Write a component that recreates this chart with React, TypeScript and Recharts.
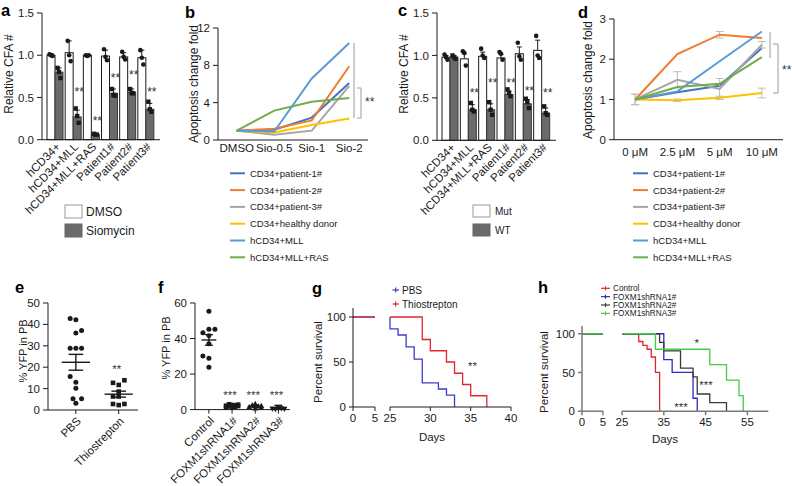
import React from 'react'
import {
  BarChart, Bar, LineChart, Line, ScatterChart, Scatter, XAxis, YAxis,
  ReferenceLine, ErrorBar,
} from 'recharts'

const FONT = '"Liberation Sans", Arial, Helvetica, sans-serif'
const INK = '#1a1a1a'

// a + c: relative colony counts
const cfaGroups = ['hCD34+', 'hCD34+MLL', 'hCD34+MLL+RAS', 'Patient1#', 'Patient2#', 'Patient3#']
const dmsoMean = [1.0, 1.03, 1.0, 0.99, 0.98, 0.97]
const dmsoErr = [0.02, 0.14, 0.01, 0.07, 0.05, 0.09]
const dmsoDots = [[1.01, 1.0, 0.99], [1.17, 1.0, 0.93], [1.0, 0.99, 1.0], [1.07, 0.98, 0.94], [1.04, 0.98, 0.95], [1.06, 0.97, 0.89]]
const sioMean = [0.8, 0.27, 0.06, 0.55, 0.56, 0.36]
const sioErr = [0.05, 0.08, 0.01, 0.05, 0.04, 0.07]
const sioDots = [[0.85, 0.8, 0.73], [0.37, 0.28, 0.2], [0.07, 0.06, 0.06], [0.6, 0.53, 0.52], [0.6, 0.55, 0.55], [0.45, 0.36, 0.33]]
const sioSig = ['', '**', '**', '**', '**', '**']
const sioSigAt = [0, 0.6, 0.26, 0.77, 0.8, 0.6]

const mutMean = [0.98, 0.96, 0.99, 0.97, 1.02, 1.06]
const mutErr = [0.02, 0.06, 0.05, 0.04, 0.08, 0.12]
const mutDots = [[1.01, 0.98, 0.95], [1.05, 1.03, 0.88], [1.08, 1.0, 0.97], [1.04, 1.02, 0.95], [1.15, 0.99, 0.95], [1.23, 1.0, 0.97]]
const wtMean = [0.98, 0.36, 0.36, 0.54, 0.43, 0.32]
const wtErr = [0.02, 0.06, 0.07, 0.04, 0.05, 0.06]
const wtDots = [[1.0, 0.98, 0.96], [0.44, 0.36, 0.34], [0.45, 0.36, 0.3], [0.6, 0.56, 0.52], [0.49, 0.45, 0.38], [0.4, 0.32, 0.3]]
const wtSig = ['', '**', '**', '**', '**', '**']
const wtSigAt = [0, 0.59, 0.71, 0.71, 0.62, 0.59]

// b + d: apoptosis fold change
const lineNames = ['CD34+patient-1#', 'CD34+patient-2#', 'CD34+patient-3#', 'CD34+healthy donor', 'hCD34+MLL', 'hCD34+MLL+RAS']
const lineColors = ['#4472c4', '#ed7d31', '#a5a5a5', '#ffc000', '#5b9bd5', '#70ad47']

const sioDoses = ['DMSO', 'Sio-0.5', 'Sio-1', 'Sio-2']
const bPatient1 = [1, 1.1, 2.4, 6.1]
const bPatient2 = [1, 1.2, 2.1, 7.9]
const bPatient3 = [1, 0.55, 1.0, 5.8]
const bHealthy = [1, 0.8, 1.6, 2.3]
const bMll = [1, 0.9, 6.6, 10.4]
const bMllRas = [1, 3.15, 4.1, 4.5]

const doses = ['0 μM', '2.5 μM', '5 μM', '10 μM']
const dPatient1 = [1, 1.18, 1.34, 2.28]
const dPatient2 = [1, 2.13, 2.61, 2.53]
const dPatient2Err = [0, 0, 0.08, 0]
const dPatient3 = [1, 1.49, 1.26, 2.36]
const dPatient3Err = [0.13, 0.2, 0.26, 0.08]
const dHealthy = [1, 0.98, 1.04, 1.16]
const dHealthyErr = [0.13, 0.03, 0.04, 0.12]
const dMll = [1, 1.2, 1.95, 2.69]
const dMllRas = [1, 1.31, 1.39, 2.05]

// e: % YFP, PBS vs thiostrepton
const yfpGroups = ['PBS', 'Thiostrepton']
const pbsYfp = [42.7, 42.2, 37.2, 36.0, 28.8, 28.8, 28.9, 15.6, 13.0, 10.2, 5.3, 5.2, 3.1]
const pbsCol = [-1, 0, 1, 0, -1, 0, 1, -1, 0, 0, -0.5, 1, 0]
const thioYfp = [13.9, 12.7, 11.7, 8.6, 6.3, 6.3, 2.8, 2.3, 2.8]
const thioCol = [1, -1, 0, 0, -1, 0, -1, 0, 1]
const yfpMean = [22.3, 7.4]
const yfpSemLow = [18.6, 6.0]
const yfpSemHigh = [26.0, 8.8]
const yfpSig = ['', '**']
const yfpSigAt = [0, 20.7]

// f: % YFP, shRNA knockdowns
const shGroups = ['Control', 'FOXM1shRNA1#', 'FOXM1shRNA2#', 'FOXM1shRNA3#']
const ctrlYfp = [55.3, 43.3, 45.2, 45.2, 41.5, 37.0, 30.1, 28.9, 23.8]
const ctrlCol = [0, -1, 0, 1, 0, 0, -1, 0, 0]
const sh1Yfp = [3.0, 2.6, 2.4, 2.2, 2.0, 1.8, 1.6, 1.3, 1.1, 2.8]
const sh1Col = [-0.5, 0, 0.5, -1, 1, -0.5, 0.5, 0, -1, 1]
const sh2Yfp = [3.3, 2.5, 1.9, 1.4, 1.0, 0.7, 2.1]
const sh2Col = [0, -0.5, 0.5, -1, 1, 0, 1]
const sh3Yfp = [0.8, 0.5, 0.3, 0.2, 0.6]
const sh3Col = [0, -1, 1, -0.5, 0.5]
const shMean = [39.2, 2.0, 1.8, 0.5]
const shSemLow = [36.2, 1.6, 1.2, 0.2]
const shSemHigh = [42.2, 2.4, 2.6, 2.4]
const shSig = ['', '***', '***', '***']
const shSigAt = [0, 9.9, 9.9, 9.9]

// g: survival, PBS vs thiostrepton
const gEarlyDays = [0, 5]
const pbsEarly = [100, 100]
const thioEarly = [100, 100]
const pbsDays = [25, 25, 26, 27, 28, 29, 31, 32, 33]
const pbsSurv = [100, 86.7, 80, 66.7, 53.3, 26.7, 20, 13.3, 0]
const thioDays = [25, 29, 30, 32, 33, 34, 35, 37]
const thioSurv = [100, 75, 62.5, 50, 37.5, 25, 12.5, 0]

// h: survival, shRNAs
const hEarlyDays = [0, 5]
const ctrlEarly = [100, 100]
const sh1Early = [100, 100]
const sh2Early = [100, 100]
const sh3Early = [100, 100]
const ctrlDays = [25, 29, 30, 31, 32, 33, 34]
const ctrlSurv = [100, 90, 85, 80, 70, 50, 0]
const sh1Days = [25, 35, 37, 42, 43]
const sh1Surv = [100, 66.7, 50, 16.7, 0]
const sh2Days = [25, 34, 35, 39, 42, 43, 46, 50]
const sh2Surv = [100, 88.9, 77.8, 55.6, 44.4, 22.2, 11.1, 0]
const sh3Days = [25, 33, 46, 50, 53, 54]
const sh3Surv = [100, 80, 60, 40, 20, 0]

const gSeries = [
  { name: 'PBS', color: '#3b3bd0', early: pbsEarly, days: pbsDays, surv: pbsSurv },
  { name: 'Thiostrepton', color: '#e0262c', early: thioEarly, days: thioDays, surv: thioSurv },
]
const hSeries = [
  { name: 'Control', color: '#e0262c', early: ctrlEarly, days: ctrlDays, surv: ctrlSurv },
  { name: 'FOXM1shRNA1#', color: '#2b2bc6', early: sh1Early, days: sh1Days, surv: sh1Surv },
  { name: 'FOXM1shRNA2#', color: '#3a3a3a', early: sh2Early, days: sh2Days, surv: sh2Surv },
  { name: 'FOXM1shRNA3#', color: '#3fcf3f', early: sh3Early, days: sh3Days, surv: sh3Surv },
]

const tickFont = { fontSize: 11.5, fill: INK }
const axisInk = { stroke: INK }

type Rect = { x0: number; y0: number; x1: number; y1: number }
const PAD = 10
function place(r: Rect, yw: number, xh: number) {
  return {
    box: { position: 'absolute' as const, left: r.x0 - yw - PAD, top: r.y0 - PAD },
    size: {
      width: r.x1 - r.x0 + yw + 2 * PAD,
      height: r.y1 - r.y0 + xh + 2 * PAD,
      margin: { top: PAD, right: PAD, bottom: PAD, left: PAD },
    },
  }
}

function RotTick(props: any) {
  const { x, y, payload, labels, fs = 11.5 } = props
  const label = labels ? labels[Math.round(payload.value) - 1] : payload.value
  const ax = x + 3
  const ay = y + 5
  return (
    <text x={ax} y={ay} dy="0.35em" textAnchor="end" fontSize={fs} fill={INK} transform={`rotate(-45 ${ax} ${ay})`}>
      {label}
    </text>
  )
}

function cfaShape(s: any) {
  return (p: any) => {
    const i = p.payload.i
    const { x, y, width, height } = p
    const base = y + height
    const k = height / s.mean[i]
    const py = (v: number) => base - v * k
    const cx = x + width / 2
    const eTop = py(s.mean[i] + s.err[i])
    return (
      <g>
        <rect x={x} y={y} width={width} height={height} fill={s.fill} stroke={s.stroke} strokeWidth={1} />
        <line x1={cx} x2={cx} y1={y} y2={eTop} stroke={INK} />
        <line x1={cx - 2.5} x2={cx + 2.5} y1={eTop} y2={eTop} stroke={INK} />
        {s.dots[i].map((v: number, j: number) => {
          const dx = (j - 1) * 1.5
          return s.marker === 'circle'
            ? <circle key={j} cx={cx + dx} cy={py(v)} r={2.3} fill={INK} />
            : <rect key={j} x={cx + dx - 2.2} y={py(v) - 2.2} width={4.4} height={4.4} fill={INK} />
        })}
        {s.sig && s.sig[i] ? (
          <text x={cx + 2} y={py(s.sigAt[i]) + 7} textAnchor="middle" fontSize={12} fill="#333">{s.sig[i]}</text>
        ) : null}
      </g>
    )
  }
}

function CfaPanel({ r, white, grey }: any) {
  const p = place(r, 30, 80)
  const rows = cfaGroups.map((g, i) => ({ g, i, a: white.mean[i], b: grey.mean[i] }))
  return (
    <div style={p.box}>
      <BarChart {...p.size} data={rows} barGap={0} barCategoryGap={1}>
        <XAxis dataKey="g" interval={0} height={80} tickLine={false} tickSize={0} tickMargin={0}
          axisLine={axisInk} padding={{ left: 4, right: 5 }} tick={<RotTick />} />
        <YAxis width={30} domain={[0, 1.5]} ticks={[0, 0.5, 1, 1.5]} tickFormatter={(v: number) => v.toFixed(1)}
          tick={tickFont} axisLine={axisInk} tickLine={axisInk} tickSize={5} tickMargin={3} />
        <Bar dataKey="a" isAnimationActive={false} shape={cfaShape(white)} />
        <Bar dataKey="b" isAnimationActive={false} shape={cfaShape(grey)} />
      </BarChart>
    </div>
  )
}

function FoldPanel({ r, rows, yMax, ticks, errKeys, tickMargin }: any) {
  const p = place(r, 30, 25)
  const edge = (r.x1 - r.x0) / 8
  return (
    <div style={p.box}>
      <LineChart {...p.size} data={rows}>
        <XAxis dataKey="d" interval={0} height={25} tickLine={false} tickSize={0} tickMargin={tickMargin}
          axisLine={axisInk} tick={tickFont} padding={{ left: edge, right: edge }} />
        <YAxis width={30} domain={[0, yMax]} ticks={ticks} tick={tickFont} axisLine={axisInk}
          tickLine={axisInk} tickSize={5} tickMargin={3} />
        {lineNames.map((n, k) => (
          <Line key={n} dataKey={`s${k}`} name={n} stroke={lineColors[k]} strokeWidth={2} dot={false}
            isAnimationActive={false}>
            {errKeys && errKeys[k] ? (
              <ErrorBar dataKey={errKeys[k]} width={4} stroke="#bdbdbd" strokeWidth={1} direction="y" />
            ) : null}
          </Line>
        ))}
      </LineChart>
    </div>
  )
}

const markerShape = (m: string) => (p: any) => {
  const { cx, cy } = p
  if (m === 'circle') return <circle cx={cx} cy={cy} r={2.5} fill={INK} />
  if (m === 'square') return <rect x={cx - 2.3} y={cy - 2.3} width={4.6} height={4.6} fill={INK} />
  if (m === 'tri') return <path d={`M${cx} ${cy - 3}L${cx + 3} ${cy + 2.2}L${cx - 3} ${cy + 2.2}Z`} fill={INK} />
  return <path d={`M${cx} ${cy + 3}L${cx + 3} ${cy - 2.2}L${cx - 3} ${cy - 2.2}Z`} fill={INK} />
}

const sigShape = (p: any) => (
  <text x={p.cx - 2} y={p.cy + 7} textAnchor="middle" fontSize={11.5} fill="#333">{p.payload.t}</text>
)

function DotPanel({ r, groups, sets, mean, lo, hi, sig, sigAt, domain, yMax, ticks, step, half, cap }: any) {
  const p = place(r, 30, 110)
  const sigRows = sig.map((t: string, i: number) => ({ x: i + 1, y: sigAt[i], t })).filter((d: any) => d.t)
  return (
    <div style={p.box}>
      <ScatterChart {...p.size}>
        <XAxis type="number" dataKey="x" domain={domain} ticks={groups.map((_: string, i: number) => i + 1)}
          allowDataOverflow height={110} axisLine={axisInk} tickLine={axisInk} tickSize={4} tickMargin={0}
          tick={<RotTick labels={groups} />} />
        <YAxis type="number" dataKey="y" width={30} domain={[0, yMax]} ticks={ticks} tick={tickFont}
          axisLine={axisInk} tickLine={axisInk} tickSize={5} tickMargin={3} />
        {sets.map((s: any, gi: number) => (
          <Scatter key={gi} isAnimationActive={false} shape={markerShape(s.marker)}
            data={s.vals.map((v: number, j: number) => ({ x: gi + 1 + s.cols[j] * step, y: v }))} />
        ))}
        {mean.map((m: number, gi: number) => (
          <ReferenceLine key={`m${gi}`} segment={[{ x: gi + 1 - half, y: m }, { x: gi + 1 + half, y: m }]}
            stroke={INK} strokeWidth={1.4} ifOverflow="visible" />
        ))}
        {mean.map((_: number, gi: number) => (
          <ReferenceLine key={`v${gi}`} segment={[{ x: gi + 1, y: lo[gi] }, { x: gi + 1, y: hi[gi] }]}
            stroke={INK} strokeWidth={1.4} ifOverflow="visible" />
        ))}
        {mean.map((_: number, gi: number) => (
          <ReferenceLine key={`h${gi}`} segment={[{ x: gi + 1 - cap, y: hi[gi] }, { x: gi + 1 + cap, y: hi[gi] }]}
            stroke={INK} strokeWidth={1.4} ifOverflow="visible" />
        ))}
        {mean.map((_: number, gi: number) => (
          <ReferenceLine key={`l${gi}`} segment={[{ x: gi + 1 - cap, y: lo[gi] }, { x: gi + 1 + cap, y: lo[gi] }]}
            stroke={INK} strokeWidth={1.4} ifOverflow="visible" />
        ))}
        <Scatter data={sigRows} shape={sigShape} isAnimationActive={false} />
      </ScatterChart>
    </div>
  )
}

function KmPanel({ rl, rr, series, earlyDays, rightDomain, rightTicks, axis, aw }: any) {
  const pl = place(rl, 30, 30)
  const pr = place(rr, 0, 30)
  const axisStyle = { stroke: axis, strokeWidth: aw }
  return (
    <>
      <div style={pl.box}>
        <LineChart {...pl.size}>
          <XAxis type="number" dataKey="d" domain={[0, 5]} ticks={[0, 5]} height={30} axisLine={axisStyle}
            tickLine={axisStyle} tickSize={4} tickMargin={3} tick={tickFont} />
          <YAxis width={30} domain={[0, 110]} ticks={[0, 50, 100]} axisLine={axisStyle} tickLine={axisStyle}
            tickSize={4} tickMargin={3} tick={tickFont} />
          {series.map((s: any) => (
            <Line key={s.name} data={earlyDays.map((d: number, i: number) => ({ d, v: s.early[i] }))} dataKey="v"
              type="stepAfter" stroke={s.color} strokeWidth={1.3} dot={false} isAnimationActive={false} />
          ))}
        </LineChart>
      </div>
      <div style={pr.box}>
        <LineChart {...pr.size}>
          <XAxis type="number" dataKey="d" domain={rightDomain} ticks={rightTicks} height={30} axisLine={axisStyle}
            tickLine={axisStyle} tickSize={4} tickMargin={3} tick={tickFont} />
          <YAxis hide domain={[0, 110]} />
          {series.map((s: any) => (
            <Line key={s.name} data={s.days.map((d: number, i: number) => ({ d, v: s.surv[i] }))} dataKey="v"
              type="stepAfter" stroke={s.color} strokeWidth={1.3} dot={false} isAnimationActive={false} />
          ))}
        </LineChart>
      </div>
    </>
  )
}

function Overlay() {
  const letters: [string, number, number][] = [
    ['a', 1, 16], ['b', 185, 18], ['c', 398, 16], ['d', 578, 18],
    ['e', 15, 293], ['f', 158, 293], ['g', 312, 294], ['h', 538, 293],
  ]
  const titles: [string, number, number, number][] = [
    ['Relative CFA #', 13, 74, 12], ['Apoptosis change fold', 198, 84, 12],
    ['Relative CFA #', 408, 74, 12], ['Apoptosis change fold', 592, 80, 12],
    ['% YFP in PB', 26.5, 351, 11], ['% YFP in PB', 170, 348, 11],
    ['Percent survival', 322, 362, 11.5], ['Percent survival', 548, 372, 11.5],
  ]
  return (
    <svg width={792} height={486} style={{ position: 'absolute', left: 0, top: 0, pointerEvents: 'none' }}
      fontFamily={FONT}>
      {letters.map(([t, x, y]) => (
        <text key={t} x={x} y={y} fontSize={16.5} fontWeight="bold" fill="#000">{t}</text>
      ))}
      {titles.map(([t, x, y, fs], i) => (
        <text key={i} transform={`translate(${x} ${y}) rotate(-90)`} textAnchor="middle" fontSize={fs} fill={INK}>{t}</text>
      ))}

      {/* a / c legends */}
      <rect x={65} y={205} width={17} height={13} fill="#fff" stroke="#999" />
      <text x={86} y={216} fontSize={12} fill={INK}>DMSO</text>
      <rect x={65} y={224} width={17} height={13} fill="#6b6b6b" stroke="#666" />
      <text x={86} y={235} fontSize={12} fill={INK}>Siomycin</text>
      <rect x={473} y={205} width={17} height={12} fill="#fff" stroke="#999" />
      <text x={495} y={215} fontSize={10} fill={INK}>Mut</text>
      <rect x={473} y={224} width={17} height={12} fill="#6b6b6b" stroke="#666" />
      <text x={495} y={234} fontSize={10} fill={INK}>WT</text>

      {/* b / d legends */}
      {lineNames.map((n, k) => {
        const y = 173.3 + k * 16.8
        return (
          <g key={n}>
            <line x1={230} x2={245} y1={y} y2={y} stroke={lineColors[k]} strokeWidth={2} />
            <text x={250} y={y + 3.4} fontSize={9.5} fill={INK}>{n}</text>
            <line x1={633} x2={648} y1={y} y2={y} stroke={lineColors[k]} strokeWidth={2} />
            <text x={653} y={y + 3.4} fontSize={9.5} fill={INK}>{n}</text>
          </g>
        )
      })}

      {/* b / d brackets */}
      <g stroke="#9a9a9a" fill="none" strokeWidth={1}>
        <line x1={354} x2={354} y1={43} y2={118} />
        <path d="M357 88H361V118H357" />
        <line x1={770} x2={770} y1={32} y2={58} />
        <path d="M773 44H778V93H773" />
      </g>
      <text x={365} y={106} fontSize={12} fill="#333">**</text>
      <text x={782} y={74} fontSize={12} fill="#333">**</text>

      {/* g / h legends */}
      {gSeries.map((s, i) => {
        const y = 290 + i * 14
        return (
          <g key={s.name}>
            <line x1={392.5} x2={399} y1={y} y2={y} stroke={s.color} strokeWidth={1.2} />
            <line x1={395.7} x2={395.7} y1={y - 2.5} y2={y + 2.5} stroke={s.color} strokeWidth={1.2} />
            <text x={402} y={y + 3.5} fontSize={10} fill={INK}>{s.name}</text>
          </g>
        )
      })}
      {hSeries.map((s, i) => {
        const y = 288.3 + i * 8.35
        return (
          <g key={s.name}>
            <line x1={601} x2={610} y1={y} y2={y} stroke={s.color} strokeWidth={1.2} />
            <line x1={605.5} x2={605.5} y1={y - 2} y2={y + 2} stroke={s.color} strokeWidth={1.2} />
            <text x={613} y={y + 3} fontSize={8.2} fill={INK}>{s.name}</text>
          </g>
        )
      })}
      <text x={468} y={370} fontSize={11.5} fill="#333">**</text>
      <text x={696.7} y={347} fontSize={11.5} fill="#333" textAnchor="middle">*</text>
      <text x={706} y={389} fontSize={11.5} fill="#333" textAnchor="middle">***</text>
      <text x={681} y={410.5} fontSize={11.5} fill="#333" textAnchor="middle">***</text>

      <text x={432} y={441} fontSize={11.5} fill={INK} textAnchor="middle">Days</text>
      <text x={665} y={443} fontSize={11.5} fill={INK} textAnchor="middle">Days</text>
    </svg>
  )
}

export default function App() {
  const bRows = sioDoses.map((d, i) => ({
    d, s0: bPatient1[i], s1: bPatient2[i], s2: bPatient3[i], s3: bHealthy[i], s4: bMll[i], s5: bMllRas[i],
  }))
  const dRows = doses.map((d, i) => ({
    d, s0: dPatient1[i], s1: dPatient2[i], s2: dPatient3[i], s3: dHealthy[i], s4: dMll[i], s5: dMllRas[i],
    e1: dPatient2Err[i], e2: dPatient3Err[i], e3: dHealthyErr[i],
  }))
  const whiteBar = { fill: '#fff', stroke: '#1a1a1a', marker: 'circle' }
  const greyBar = { fill: '#6b6b6b', stroke: '#3a3a3a', marker: 'square' }

  return (
    <div style={{
      position: 'absolute', left: 0, top: 0, width: 792, height: 486, overflow: 'hidden',
      background: '#fff', fontFamily: FONT, color: INK,
    }}>
      <CfaPanel r={{ x0: 42, y0: 13.3, x1: 160, y1: 140 }}
        white={{ ...whiteBar, mean: dmsoMean, err: dmsoErr, dots: dmsoDots }}
        grey={{ ...greyBar, mean: sioMean, err: sioErr, dots: sioDots, sig: sioSig, sigAt: sioSigAt }} />
      <FoldPanel r={{ x0: 218, y0: 28, x1: 368, y1: 140 }} rows={bRows} yMax={12} ticks={[0, 4, 8, 12]}
        tickMargin={4} />
      <CfaPanel r={{ x0: 437, y0: 12.7, x1: 556, y1: 140 }}
        white={{ ...whiteBar, mean: mutMean, err: mutErr, dots: mutDots }}
        grey={{ ...greyBar, mean: wtMean, err: wtErr, dots: wtDots, sig: wtSig, sigAt: wtSigAt }} />
      <FoldPanel r={{ x0: 614, y0: 19.3, x1: 783, y1: 140 }} rows={dRows} yMax={3} ticks={[0, 1, 2, 3]}
        tickMargin={8} errKeys={[null, 'e1', 'e2', 'e3', null, null]} />

      <DotPanel r={{ x0: 48, y0: 303, x1: 138, y1: 410 }} groups={yfpGroups}
        sets={[{ vals: pbsYfp, cols: pbsCol, marker: 'circle' }, { vals: thioYfp, cols: thioCol, marker: 'square' }]}
        mean={yfpMean} lo={yfpSemLow} hi={yfpSemHigh} sig={yfpSig} sigAt={yfpSigAt}
        domain={[0.35, 2.45]} yMax={50} ticks={[0, 10, 20, 30, 40, 50]} step={0.133} half={0.33} cap={0.17} />
      <DotPanel r={{ x0: 195, y0: 302.7, x1: 290, y1: 409.3 }} groups={shGroups}
        sets={[
          { vals: ctrlYfp, cols: ctrlCol, marker: 'circle' },
          { vals: sh1Yfp, cols: sh1Col, marker: 'square' },
          { vals: sh2Yfp, cols: sh2Col, marker: 'tri' },
          { vals: sh3Yfp, cols: sh3Col, marker: 'tridown' },
        ]}
        mean={shMean} lo={shSemLow} hi={shSemHigh} sig={shSig} sigAt={shSigAt}
        domain={[0.4, 4.5]} yMax={60} ticks={[0, 20, 40, 60]} step={0.26} half={0.32} cap={0.17} />

      <KmPanel rl={{ x0: 353, y0: 307.7, x1: 375, y1: 406.7 }} rr={{ x0: 390, y0: 307.7, x1: 511, y1: 406.7 }}
        series={gSeries} earlyDays={gEarlyDays} rightDomain={[25, 40]} rightTicks={[25, 30, 35, 40]}
        axis={INK} aw={1} />
      <KmPanel rl={{ x0: 582, y0: 325.5, x1: 603, y1: 410.7 }} rr={{ x0: 621.7, y0: 325.5, x1: 768, y1: 410.7 }}
        series={hSeries} earlyDays={hEarlyDays} rightDomain={[25, 60]} rightTicks={[25, 35, 45, 55]}
        axis="#7a7a7a" aw={1.5} />

      <Overlay />
    </div>
  )
}
